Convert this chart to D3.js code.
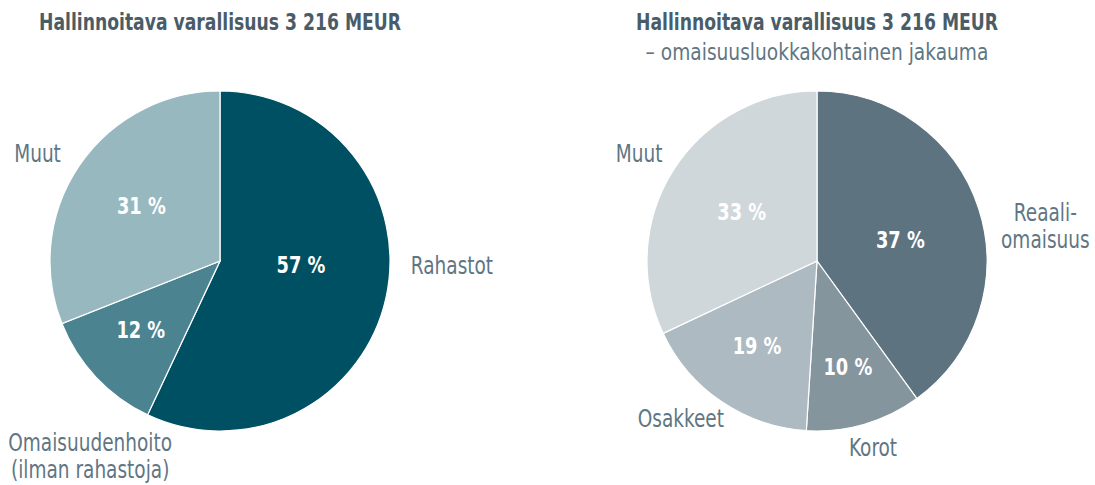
<!DOCTYPE html>
<html>
<head>
<meta charset="utf-8">
<script src="https://cdn.jsdelivr.net/npm/d3@7"></script>
<style>
  body { margin: 0; background: #fff; }
  svg text { font-family: "Liberation Sans Narrow", "DejaVu Sans Condensed", sans-serif; }
</style>
</head>
<body>
<svg id="chart" width="1095" height="485"></svg>
<script>
// left pie: managed assets by business
const leftNames = ["Rahastot", "Omaisuudenhoito\n(ilman rahastoja)", "Muut"];
const leftShares = [57, 12, 31];
const leftPct = ["57 %", "12 %", "31 %"];

// right pie: by asset class (slice sizes as drawn, labels as printed)
const rightNames = ["Reaali-\nomaisuus", "Korot", "Osakkeet", "Muut"];
const rightShares = [40, 11, 17, 32];
const rightPct = ["37 %", "10 %", "19 %", "33 %"];

const titleMain = "Hallinnoitava varallisuus 3 216 MEUR";
const titleSub = "– omaisuusluokkakohtainen jakauma";

const svg = d3.select("#chart");
const radius = 170;

// label placement, [angle in degrees from 12 o'clock, distance from centre]
const pies = [
  {
    cx: 220, cy: 261,
    names: leftNames, shares: leftShares, pct: leftPct,
    colors: ["#005064", "#4b8390", "#98b8c0"],
    pctPos: [[93, 81], [229, 105], [305, 96]],
    namePos: [[91, 232], [213.7, 234], [300.6, 212]],
    title: [titleMain]
  },
  {
    cx: 817, cy: 261,
    names: rightNames, shares: rightShares, pct: rightPct,
    colors: ["#5d7380", "#85959e", "#aebac1", "#cfd7db"],
    pctPos: [[75.8, 86], [163.7, 110], [215.2, 104], [303.2, 90]],
    namePos: [[81.3, 231], [163.3, 195], [220.9, 208], [301.2, 208]],
    title: [titleMain, titleSub]
  }
];

const pie = d3.pie().sort(null).value(d => d);
const arc = d3.arc().innerRadius(0).outerRadius(radius);

function polar(p, a, r) {
  const t = a * Math.PI / 180;
  return [p.cx + r * Math.sin(t), p.cy - r * Math.cos(t)];
}

// condensed look: squeeze the installed font horizontally
function label(x, y, sx) {
  return svg.append("text")
    .attr("transform", `translate(${x},${y}) scale(${sx},1)`)
    .attr("text-anchor", "middle");
}

pies.forEach(p => {
  const g = svg.append("g").attr("transform", `translate(${p.cx},${p.cy})`);

  g.selectAll("path")
    .data(pie(p.shares))
    .join("path")
    .attr("d", arc)
    .attr("fill", (d, i) => p.colors[i])
    .attr("stroke", "#fff")
    .attr("stroke-width", 1.2);

  // percentages inside slices
  p.pct.forEach((t, i) => {
    const [x, y] = polar(p, p.pctPos[i][0], p.pctPos[i][1]);
    label(x, y, 0.86)
      .attr("dominant-baseline", "central")
      .attr("fill", "#fff")
      .attr("font-weight", "bold")
      .attr("font-size", 23)
      .text(t);
  });

  // category names outside
  p.names.forEach((t, i) => {
    const [x, y] = polar(p, p.namePos[i][0], p.namePos[i][1]);
    const lines = t.split("\n");
    const txt = label(x, y, 0.84)
      .attr("fill", "#5f7683")
      .attr("font-size", 24.5);
    lines.forEach((l, j) => {
      txt.append("tspan")
        .attr("x", 0)
        .attr("y", (j - (lines.length - 1) / 2) * 27)
        .attr("dominant-baseline", "central")
        .text(l);
    });
  });

  // title
  p.title.forEach((t, j) => {
    label(p.cx, 22 + j * 30, j === 0 ? 0.85 : 0.88)
      .attr("dominant-baseline", "central")
      .attr("fill", j === 0 ? "#4a5c67" : "#5f7683")
      .attr("font-weight", j === 0 ? "bold" : "normal")
      .attr("font-size", j === 0 ? 22.5 : 23.5)
      .text(t);
  });
});
</script>
</body>
</html>
